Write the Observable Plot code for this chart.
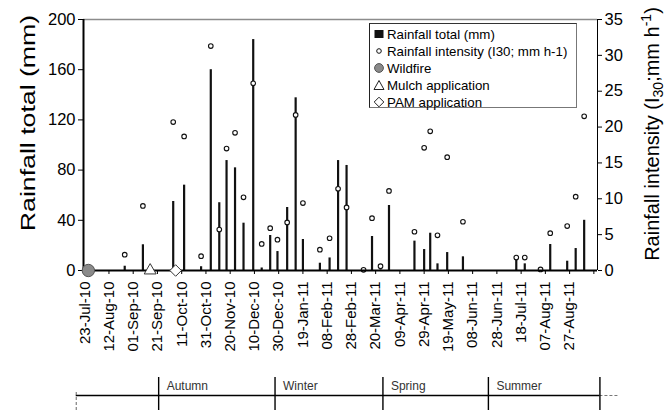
<!DOCTYPE html>
<html><head><meta charset="utf-8">
<script src="https://cdn.jsdelivr.net/npm/d3@7"></script>
<script src="https://cdn.jsdelivr.net/npm/@observablehq/plot@0.6"></script>
<style>
body{margin:0;background:#fff;font-family:"Liberation Sans",Arial,sans-serif;}
#wrap{position:relative;width:666px;height:410px;overflow:hidden;}
#wrap svg{display:block;}
#legend{position:absolute;left:369px;top:23px;width:208px;height:85px;box-sizing:border-box;background:#fff;
  border:1px solid #777;border-left-color:#222;border-top-color:#333;font-size:13.3px;color:#000;}
.row{position:absolute;left:3px;height:17px;display:flex;align-items:center;white-space:nowrap;}
.row svg{display:block;margin-right:2px;}
</style></head><body><div id="wrap"></div>
<script>
// ---- data ----
const rainDates = ["2010-08-25","2010-09-09","2010-10-04","2010-10-13","2010-10-27","2010-11-04","2010-11-11","2010-11-17","2010-11-24","2010-12-01","2010-12-09","2010-12-16","2010-12-23","2010-12-29","2011-01-06","2011-01-13","2011-01-19","2011-02-02","2011-02-10","2011-02-17","2011-02-24","2011-03-10","2011-03-17","2011-03-24","2011-03-31","2011-04-21","2011-04-29","2011-05-04","2011-05-10","2011-05-18","2011-05-31","2011-07-14","2011-07-21","2011-08-03","2011-08-11","2011-08-25","2011-09-01","2011-09-08"];
const rainTotal = [3.4,20.5,55,68,3,160,54,87.6,81.8,37.7,184,2,27.9,15.1,50.2,137.6,24.7,5.8,10,87.6,83.7,0.2,27.1,0.5,51.8,23.4,16.7,29.7,5.3,14.3,10.9,10,5.3,0.3,20.7,7.4,17.5,40];
const rainIntensity = [2.2,9.0,20.7,18.7,2.0,31.3,5.7,17.0,19.2,10.2,26.1,3.7,5.9,4.3,6.7,21.7,9.4,2.9,4.5,11.4,8.8,0.1,7.3,0.6,11.1,5.4,17.1,19.4,4.9,15.8,6.8,1.8,1.8,0.15,5.2,6.2,10.3,21.5];
const eventNames = ["Wildfire","Mulch application","PAM application"];
const eventDates = ["2010-07-26","2010-09-15","2010-10-06"];
const tickDates = ["2010-07-23","2010-08-12","2010-09-01","2010-09-21","2010-10-11","2010-10-31","2010-11-20","2010-12-10","2010-12-30","2011-01-19","2011-02-08","2011-02-28","2011-03-20","2011-04-09","2011-04-29","2011-05-19","2011-06-08","2011-06-28","2011-07-18","2011-08-07","2011-08-27","2011-09-16"];
const tickLabels = ["23-Jul-10","12-Aug-10","01-Sep-10","21-Sep-10","11-Oct-10","31-Oct-10","20-Nov-10","10-Dec-10","30-Dec-10","19-Jan-11","08-Feb-11","28-Feb-11","20-Mar-11","09-Apr-11","29-Apr-11","19-May-11","08-Jun-11","28-Jun-11","18-Jul-11","07-Aug-11","27-Aug-11",""];
const yTicksLeft = [0,40,80,120,160,200];
const yTicksRight = [0,5,10,15,20,25,30,35];
const seasonNames = ["","Autumn","Winter","Spring","Summer"];
const seasonStarts = ["2010-07-16","2010-09-22","2010-12-27","2011-03-26","2011-06-21"];
const seasonEnd = "2011-09-21";
const seasonTail = "2011-10-06";
const xDomain = ["2010-07-22","2011-09-19"];
const leftTitle = "Rainfall total (mm)";
const legendLabels = ["Rainfall total (mm)","Rainfall intensity (I30; mm h-1)","Wildfire","Mulch application","PAM application"];

// ---- build ----
const W = 666, H1 = 372, H2 = 38;
const yMax = 200, iMax = 35, k = yMax / iMax;
const font = "Liberation Sans, Arial, sans-serif";
const dom = xDomain.map(d => new Date(d));
const rows = rainDates.map((d, i) => ({date: new Date(d), total: rainTotal[i], intensity: rainIntensity[i]}));
const events = eventNames.map((n, i) => ({name: n, date: new Date(eventDates[i])}));
const ticksD = tickDates.map(d => new Date(d));
const labelOf = new Map(tickDates.map((d, i) => [+new Date(d), tickLabels[i]]));

const p1 = Plot.plot({
  width: W, height: H1,
  marginLeft: 83, marginRight: 69, marginTop: 19, marginBottom: H1 - 270,
  x: {type: "utc", domain: dom},
  y: {domain: [0, yMax]},
  style: {fontFamily: font, background: "#fff", color: "#000", overflow: "visible"},
  marks: [
    Plot.ruleY([yMax], {stroke: "#8c8c8c", strokeWidth: 1.5}),
    Plot.ruleX(rows, {x: "date", y1: 0, y2: "total", stroke: "#111", strokeWidth: 2.2}),
    Plot.dot(rows, {x: "date", y: d => d.intensity * k, r: 2.3, fill: "#fff", stroke: "#111", strokeWidth: 1.1}),
    Plot.axisY({ticks: yTicksLeft, tickSize: 5, tickPadding: 3, label: null}),
    Plot.axisY({anchor: "right", ticks: yTicksRight.map(v => v * k), tickFormat: v => String(Math.round(v / k)),
      tickSize: 4, tickPadding: 3, label: null}),
    Plot.axisX({ticks: ticksD, tickFormat: d => labelOf.get(+d), tickRotate: -90, tickSize: 4, tickPadding: 7, label: null}),
    Plot.ruleX([dom[0]], {stroke: "#000", strokeWidth: 2}),
    Plot.ruleX([dom[1]], {stroke: "#000", strokeWidth: 1}),
    Plot.ruleY([0], {stroke: "#000", strokeWidth: 2.2}),
    Plot.dot(events.filter(d => d.name === "Wildfire"), {x: "date", y: 0, r: 6.2, fill: "#8a8a8a", stroke: "#555", strokeWidth: 1}),
    Plot.dot(events.filter(d => d.name === "Mulch application"), {x: "date", y: 0, symbol: "triangle2", r: 5.7, fill: "#fff", stroke: "#333", strokeWidth: 1}),
    Plot.dot(events.filter(d => d.name === "PAM application"), {x: "date", y: 0, symbol: "diamond2", r: 5.2, fill: "#fff", stroke: "#333", strokeWidth: 1})
  ]
});

// tick label sizes (all texts in the plot at this point are tick labels)
const s1 = d3.select(p1);
s1.selectAll("text").each(function () {
  const isDate = /[A-Za-z]/.test(this.textContent);
  this.style.fontSize = isDate ? "15px" : "16.5px";
});

// axis titles
s1.append("text").attr("transform", "translate(35,123) rotate(-90) scale(1.27,1)")
  .attr("text-anchor", "middle").style("font-size", "21px").attr("fill", "#000").attr("font-family", font).text(leftTitle);
const rt = s1.append("text").attr("transform", "translate(659,134) rotate(-90)")
  .attr("text-anchor", "middle").style("font-size", "20px").attr("fill", "#000").attr("font-family", font);
rt.append("tspan").text("Rainfall intensity (I");
rt.append("tspan").style("font-size", "14px").attr("dy", 4).text("30");
rt.append("tspan").attr("dy", -4).text(";mm h");
rt.append("tspan").style("font-size", "14px").attr("dy", -8).text("-1");
rt.append("tspan").attr("dy", 8).text(")");

// season band
const seasons = seasonStarts.map((d, i) => ({name: seasonNames[i], start: new Date(d),
  end: new Date(i < seasonStarts.length - 1 ? seasonStarts[i + 1] : seasonEnd)}));
const band = [{x1: new Date(seasonStarts[0]), x2: new Date(seasonEnd), x3: new Date(seasonTail)}];
const p2 = Plot.plot({
  width: W, height: H2, marginLeft: 83, marginRight: 69, marginTop: 0, marginBottom: 0,
  x: {type: "utc", domain: dom, axis: null},
  y: {domain: [0, H2], range: [H2, 0], axis: null},
  style: {fontFamily: font, background: "#fff", color: "#000", overflow: "visible"},
  marks: [
    Plot.ruleY(band, {y: 15, x1: "x1", x2: "x2", stroke: "#000", strokeWidth: 1.3}),
    Plot.ruleY(band, {y: 15, x1: "x2", x2: "x3", stroke: "#777", strokeWidth: 1, strokeDasharray: "3,2"}),
    Plot.ruleX(seasons.slice(1), {x: "start", y1: 0, y2: 33, stroke: "#000", strokeWidth: 1.4}),
    Plot.ruleX(band, {x: "x2", y1: 0, y2: 33, stroke: "#000", strokeWidth: 1.4}),
    Plot.ruleX(band, {x: "x1", y1: 0, y2: 20, stroke: "#666", strokeWidth: 1, strokeDasharray: "3,2"}),
    Plot.text(seasons.slice(1), {x: "start", y: 24, text: "name", textAnchor: "start", dx: 8, fill: "#333"})
  ]
});
d3.select(p2).selectAll("text").style("font-size", "12px");

const wrap = document.getElementById("wrap");
wrap.appendChild(p1);
wrap.appendChild(p2);

// legend (overlay inside plot area)
const icons = [
  '<svg width="12" height="12"><rect x="1.5" y="2" width="9" height="8" fill="#111"/></svg>',
  '<svg width="12" height="12"><circle cx="6" cy="6" r="2.3" fill="#fff" stroke="#111" stroke-width="1"/></svg>',
  '<svg width="12" height="12"><circle cx="6" cy="6" r="4.4" fill="#8a8a8a" stroke="#555" stroke-width="1"/></svg>',
  '<svg width="12" height="12"><path d="M6,1.5 L11,10.5 L1,10.5 Z" fill="#fff" stroke="#222" stroke-width="1"/></svg>',
  '<svg width="12" height="12"><path d="M6,1.2 L10.8,6 L6,10.8 L1.2,6 Z" fill="#fff" stroke="#222" stroke-width="1"/></svg>'
];
const leg = document.createElement("div");
leg.id = "legend";
legendLabels.forEach((t, i) => {
  const r = document.createElement("div");
  r.className = "row";
  r.style.top = (1.5 + 17 * i) + "px";
  r.innerHTML = icons[i];
  const sp = document.createElement("span");
  sp.textContent = t;
  r.appendChild(sp);
  leg.appendChild(r);
});
wrap.appendChild(leg);
</script>
</body></html>
